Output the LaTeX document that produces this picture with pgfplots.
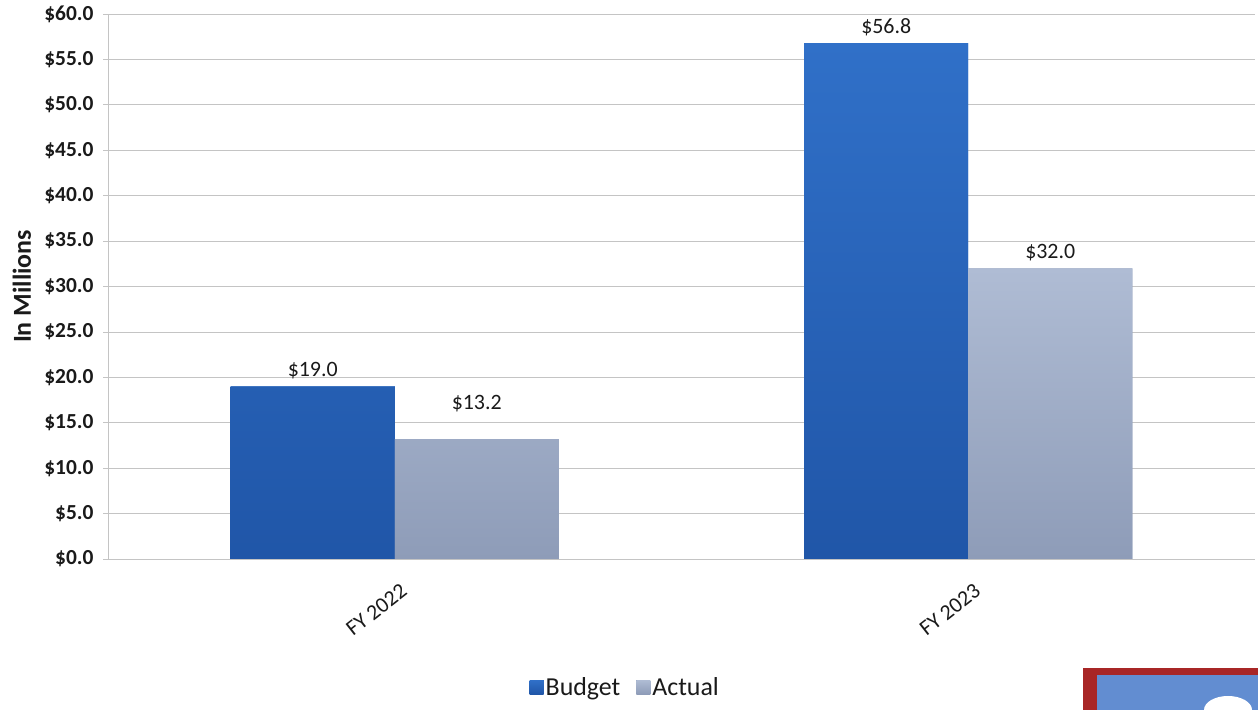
\documentclass[border=0pt]{standalone}
\usepackage{pgfplots}
\pgfplotsset{compat=1.18}
\usepackage{fontspec}
\setmainfont{Carlito}
\definecolor{budgettop}{HTML}{3070C8}
\definecolor{budgetbot}{HTML}{2056A8}
\definecolor{actualtop}{HTML}{AFBCD4}
\definecolor{actualbot}{HTML}{8E9CB8}
\definecolor{gridgray}{HTML}{C4C4C4}
\definecolor{textgray}{HTML}{1A1A1A}
\begin{document}
\begin{tikzpicture}[x=1bp,y=1bp]
\useasboundingbox (0,0) rectangle (1258,710);
\begin{axis}[
  at={(108bp,151bp)}, anchor=south west,
  scale only axis,
  width=1147bp, height=545bp,
  xmin=-0.5, xmax=1.5,
  ymin=0, ymax=60,
  ytick={0,5,...,60},
  xtick={0,1},
  xticklabels={FY 2022,FY 2023},
  extra x ticks={0.5},
  extra x tick labels={\empty},
  extra x tick style={major tick length=6bp, tick style={gridgray, line width=0.8bp}},
  major x tick style={draw=none},
  tick align=outside,
  major tick length=5bp,
  ytick style={gridgray, line width=0.8bp},
  ymajorgrids,
  grid style={gridgray, line width=0.8bp},
  axis x line*=bottom,
  axis y line*=left,
  axis line style={gridgray, line width=0.8bp},
  /pgf/number format/assume math mode=true,
  yticklabel={\$\pgfmathprintnumber[fixed,fixed zerofill,precision=1]{\tick}},
  yticklabel style={font=\fontsize{21.5}{25}\selectfont\bfseries, text=textgray, xshift=-6bp},
  xticklabel style={font=\fontsize{22}{26}\selectfont, text=textgray, rotate=38, anchor=north east, xshift=-4bp, yshift=-14bp},
  ylabel={In Millions},
  ylabel style={font=\fontsize{26}{30}\selectfont\bfseries, text=textgray, at={(axis description cs:-0.075,0.5)}, anchor=center},
  nodes near coords={\$\pgfmathprintnumber[fixed,fixed zerofill,precision=1]{\pgfplotspointmeta}},
  nodes near coords style={font=\fontsize{22}{26}\selectfont, text=textgray, anchor=south},
  legend style={at={(0.451,-0.235)}, anchor=center, draw=none, fill=none,
    legend columns=2, font=\fontsize{26}{30}\selectfont, text=textgray,
    /tikz/every even column/.append style={column sep=14bp}},
  legend image code/.code={\fill[#1] (-4bp,-7bp) rectangle (10bp,7bp);},
  clip=false,
]
\addplot[ybar, bar width=164bp, bar shift=-82bp, draw=none, top color=budgettop, bottom color=budgetbot, fill=budgettop,
  every node near coord/.append style={xshift=-82bp, yshift=4bp}]
  coordinates {(0,19.0) (1,56.8)};
\addlegendentry{Budget}
\addplot[ybar, bar width=164bp, bar shift=82bp, draw=none, top color=actualtop, bottom color=actualbot, fill=actualbot,
  visualization depends on={x \as \xv},
  every node near coord/.append style={xshift=82bp, yshift={4bp+(1-\xv)*20bp}}]
  coordinates {(0,13.2) (1,32.0)};
\addlegendentry{Actual}
\end{axis}
% decorative logo fragment in bottom-right corner
\fill[red!60!black!85] (1083,0) rectangle (1258,42);
\fill[cyan!45!blue!65] (1097,0) rectangle (1258,35);
\fill[white] (1228,0) ellipse (24 and 14);
\end{tikzpicture}
\end{document}
